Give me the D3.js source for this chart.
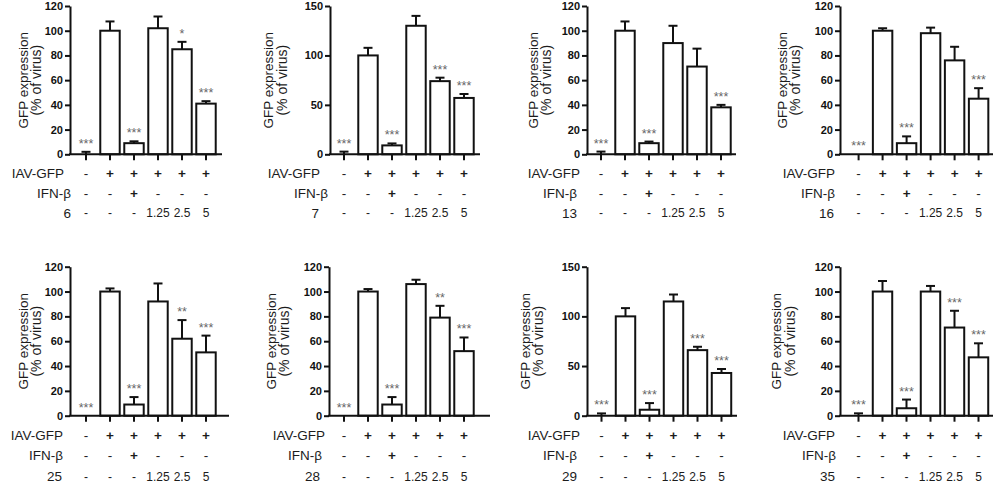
<!DOCTYPE html>
<html>
<head>
<meta charset="utf-8">
<script src="https://cdn.jsdelivr.net/npm/d3@7"></script>
<style>
  html, body { margin: 0; padding: 0; background: #fff; }
  svg { display: block; font-family: "Liberation Sans", Arial, Helvetica, sans-serif; }
</style>
</head>
<body>
<svg id="chart" width="995" height="485"></svg>
<script>
// ---------------- data ----------------
const compounds = ["6", "7", "13", "16", "25", "28", "29", "35"];
const yMax = [120, 150, 120, 120, 120, 120, 150, 120];
const ticks120 = [0, 20, 40, 60, 80, 100, 120];
const ticks150 = [0, 50, 100, 150];

const means6  = [0, 100, 9, 102, 85, 41];
const means7  = [0, 100, 9, 130, 74, 57];
const means13 = [0, 100, 9, 90, 71, 38];
const means16 = [0, 100, 9, 98, 76, 45];
const means25 = [0, 100, 9, 92, 62, 51];
const means28 = [0, 100, 9, 106, 79, 52];
const means29 = [0, 100, 6, 115, 66, 43];
const means35 = [0, 100, 6, 100, 71, 47];

const err6  = [2, 7.5, 1.5, 9.5, 6, 2];
const err7  = [2.7, 7.7, 2, 10, 3.5, 4];
const err13 = [2.2, 7.5, 1.3, 14, 14.5, 2];
const err16 = [0, 2, 5.5, 4.5, 11, 8.5];
const err25 = [0, 2.5, 6, 14.5, 15, 13.5];
const err28 = [0, 2, 6, 3.5, 9.5, 11];
const err29 = [2.3, 8.3, 6.7, 7, 3.4, 4];
const err35 = [1.9, 8.5, 7, 4.5, 13.5, 11.3];

const sig6  = ["***", "", "***", "", "*", "***"];
const sig7  = ["***", "", "***", "", "***", "***"];
const sig13 = ["***", "", "***", "", "", "***"];
const sig16 = ["***", "", "***", "", "", "***"];
const sig25 = ["***", "", "***", "", "**", "***"];
const sig28 = ["***", "", "***", "", "**", "***"];
const sig29 = ["***", "", "***", "", "***", "***"];
const sig35 = ["***", "", "***", "", "***", "***"];

const rowIAV  = ["-", "+", "+", "+", "+", "+"];
const rowIFN  = ["-", "-", "+", "-", "-", "-"];
const rowDose = ["-", "-", "-", "1.25", "2.5", "5"];

const yLabel1 = "GFP expression";
const yLabel2 = "(% of virus)";

const allMeans = [means6, means7, means13, means16, means25, means28, means29, means35];
const allErr   = [err6, err7, err13, err16, err25, err28, err29, err35];
const allSig   = [sig6, sig7, sig13, sig16, sig25, sig28, sig29, sig35];

// ---------------- layout ----------------
const rowsLayout = [
  { yTop: 6, yBottom: 154.3, rowY: [173, 193, 213] },
  { yTop: 266.7, yBottom: 415.7, rowY: [435, 455.5, 476.5] }
];
const panelLayout = [
  { axisX: 70,  first: 86,    end: 222, labX: [23, 36],      rowEnds: [64, 71, 71] },
  { axisX: 330, first: 344,   end: 480, labX: [268.3, 281.7], rowEnds: [320, 328, 319] },
  { axisX: 587, first: 601,   end: 736, labX: [533.3, 545.7], rowEnds: [580, 577, 577] },
  { axisX: 840, first: 858.6, end: 993, labX: [782.3, 795],   rowEnds: [835, 835, 834] },
  { axisX: 70,  first: 86,    end: 229, labX: [23.3, 36],     rowEnds: [63, 63, 62] },
  { axisX: 329, first: 344,   end: 490, labX: [271, 284.3],   rowEnds: [325, 322, 320] },
  { axisX: 587, first: 601.5, end: 737, labX: [525, 537.7],   rowEnds: [580, 577, 577] },
  { axisX: 840, first: 858.5, end: 993, labX: [776.7, 790],   rowEnds: [835, 836, 835] }
];
const STEP = 24;
const INK = "#111";
const TXT = "#1c1c1c";

const svg = d3.select("#chart");

compounds.forEach((cmp, i) => {
  const L = panelLayout[i];
  const R = rowsLayout[i < 4 ? 0 : 1];
  const means = allMeans[i], errs = allErr[i], sigs = allSig[i];
  const idx = d3.range(means.length);

  const y = d3.scaleLinear().domain([0, yMax[i]]).range([R.yBottom, R.yTop]);
  const x = d3.scaleBand().domain(idx)
    .range([L.first - STEP / 2, L.first - STEP / 2 + STEP * means.length])
    .paddingInner(0.19).paddingOuter(0.095);
  const bw = x.bandwidth();
  const cx = d => x(d) + bw / 2;

  const g = svg.append("g");

  // bars
  g.selectAll("rect.bar").data(idx.filter(d => means[d] > 0)).join("rect")
    .attr("class", "bar")
    .attr("x", d => x(d))
    .attr("width", bw)
    .attr("y", d => y(means[d]))
    .attr("height", d => y(0) - y(means[d]))
    .attr("fill", "#fff").attr("stroke", INK).attr("stroke-width", 2);

  // error bars (upper only)
  const eIdx = idx.filter(d => errs[d] > 0);
  g.selectAll("line.ev").data(eIdx).join("line")
    .attr("x1", cx).attr("x2", cx)
    .attr("y1", d => y(means[d])).attr("y2", d => y(means[d] + errs[d]))
    .attr("stroke", INK).attr("stroke-width", 2);
  g.selectAll("line.ec").data(eIdx).join("line")
    .attr("x1", d => cx(d) - 4.5).attr("x2", d => cx(d) + 4.5)
    .attr("y1", d => y(means[d] + errs[d])).attr("y2", d => y(means[d] + errs[d]))
    .attr("stroke", INK).attr("stroke-width", 2);

  // significance stars
  g.selectAll("text.sig").data(idx.filter(d => sigs[d])).join("text")
    .attr("x", cx)
    .attr("y", d => y(means[d] + errs[d]) - 4)
    .attr("text-anchor", "middle")
    .attr("font-size", 12.5)
    .attr("fill", "#666")
    .text(d => sigs[d]);

  // y axis
  const yAxis = d3.axisLeft(y).tickValues(yMax[i] === 150 ? ticks150 : ticks120)
    .tickSize(5).tickSizeOuter(0).tickPadding(2);
  const ya = g.append("g").attr("transform", `translate(${L.axisX},0)`).call(yAxis);
  ya.select(".domain").attr("stroke", INK).attr("stroke-width", 2);
  ya.selectAll(".tick line").attr("stroke", INK).attr("stroke-width", 2);
  ya.selectAll(".tick text").attr("font-size", 11).attr("font-weight", "bold")
    .attr("fill", INK).attr("font-family", "Liberation Sans, Arial, sans-serif");

  // x axis
  const xAxis = d3.axisBottom(x).tickFormat("").tickSize(6).tickSizeOuter(0);
  const xa = g.append("g").attr("transform", `translate(0,${y(0)})`).call(xAxis);
  xa.select(".domain").attr("d", `M${L.axisX - 1},0H${L.end}`)
    .attr("stroke", INK).attr("stroke-width", 2);
  xa.selectAll(".tick line").attr("stroke", INK).attr("stroke-width", 2);

  // y label
  const yc = (R.yTop + R.yBottom) / 2;
  [yLabel1, yLabel2].forEach((t, k) => {
    g.append("text")
      .attr("transform", `translate(${L.labX[k]},${yc}) rotate(-90)`)
      .attr("text-anchor", "middle")
      .attr("dominant-baseline", "central")
      .attr("font-size", k === 0 ? 13.5 : 14)
      .attr("fill", TXT)
      .text(t);
  });

  // condition rows
  const rowNames = ["IAV-GFP", "IFN-β", cmp];
  const rowVals = [rowIAV, rowIFN, rowDose];
  rowNames.forEach((name, r) => {
    g.append("text")
      .attr("x", L.rowEnds[r]).attr("y", R.rowY[r])
      .attr("text-anchor", "end").attr("dominant-baseline", "central")
      .attr("font-size", 13.5).attr("fill", TXT)
      .text(name);
    g.selectAll(null).data(idx).join("text")
      .attr("x", cx).attr("y", R.rowY[r])
      .attr("text-anchor", "middle").attr("dominant-baseline", "central")
      .attr("font-size", r === 2 ? 12 : 13.5).attr("fill", TXT)
      .attr("font-weight", d => rowVals[r][d] === "+" ? "bold" : "normal")
      .text(d => rowVals[r][d]);
  });
});
</script>
</body>
</html>
